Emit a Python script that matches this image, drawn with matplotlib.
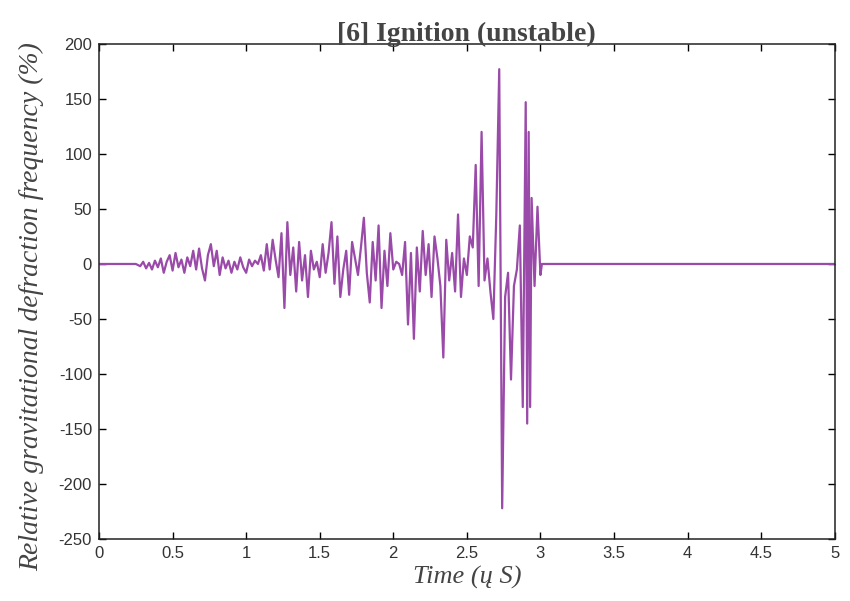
import numpy as np
import matplotlib
matplotlib.use("Agg")
import matplotlib.pyplot as plt

plt.rcParams["axes.unicode_minus"] = False

# tiempo (u S) y frecuencia relativa (%)
t = [0.00, 0.25, 0.28, 0.30, 0.32, 0.34, 0.36, 0.38, 0.40, 0.42, 0.44, 0.46, 0.48,
     0.50, 0.52, 0.54, 0.56, 0.58, 0.60, 0.62, 0.64, 0.66, 0.68, 0.70, 0.72, 0.74,
     0.76, 0.78, 0.80, 0.82, 0.84, 0.86, 0.88, 0.90, 0.92, 0.94, 0.96, 0.98, 1.00,
     1.02, 1.04, 1.06, 1.08, 1.10, 1.12, 1.14, 1.16, 1.18, 1.20, 1.22, 1.24, 1.26,
     1.28, 1.30, 1.32, 1.34, 1.36, 1.38, 1.40, 1.42, 1.44, 1.46, 1.48, 1.50, 1.52,
     1.54, 1.56, 1.58, 1.60, 1.62, 1.64, 1.66, 1.68, 1.70, 1.72, 1.74, 1.76, 1.78,
     1.80, 1.82, 1.84, 1.86, 1.88, 1.90, 1.92, 1.94, 1.96, 1.98, 2.00, 2.02, 2.04,
     2.06, 2.08, 2.10, 2.12, 2.14, 2.16, 2.18, 2.20, 2.22, 2.24, 2.26, 2.28, 2.30,
     2.32, 2.34, 2.36, 2.38, 2.40, 2.42, 2.44, 2.46, 2.48, 2.50, 2.52, 2.54, 2.56,
     2.58, 2.60, 2.62, 2.64, 2.66, 2.68, 2.70, 2.72, 2.74, 2.76, 2.78, 2.80, 2.82,
     2.84, 2.86, 2.88, 2.90, 2.91, 2.92, 2.93, 2.94, 2.96, 2.98, 3.00, 3.01, 5.00]
freq = [0, 0, -2, 2, -4, 1, -5, 3, -3, 5, -8, 2, 8,
        -6, 10, -3, 4, -8, 6, -2, 12, -5, 14, -4, -15, 8,
        18, -2, 12, -10, 6, -4, 3, -8, 2, -5, 6, -3, -8,
        4, -2, 3, 0, 8, -6, 18, -5, 22, 4, -12, 28, -40,
        38, -10, 15, -25, 20, -15, 8, -30, 12, -5, 2, -12, 18,
        -8, 10, 38, -18, 25, -30, -5, 12, -28, 20, 5, -10, 15,
        42, -8, -35, 20, -15, 35, -40, 12, -20, 28, -5, 2, 0,
        -10, 20, -55, 10, -68, 15, -25, 30, -10, 18, -30, 25, 5,
        -20, -85, 22, -15, 10, -25, 45, -30, 5, -10, 25, 15, 90,
        -20, 120, -15, 5, -25, -50, 44, 177, -222, -30, -8, -105, -20,
        -5, 35, -130, 147, -145, 120, -130, 60, -20, 52, -10, 0, 0]

fig, ax = plt.subplots(figsize=(8.5, 6.01), dpi=100)
fig.subplots_adjust(left=0.1165, right=0.982, bottom=0.103, top=0.927)

ax.plot(t, freq, color="#9a4aa8", linewidth=1.6)

ax.set_xlim(0, 5)
ax.set_ylim(-250, 200)
ax.set_xticks(np.arange(0, 5.01, 0.5))
ax.set_xticklabels(["0", "0.5", "1", "1.5", "2", "2.5", "3", "3.5", "4", "4.5", "5"])
ax.set_yticks(np.arange(-250, 201, 50))

ax.tick_params(direction="in", top=True, right=True, length=5, width=1,
               labelsize=12, labelcolor="#333333", pad=5)
for lab in ax.get_xticklabels() + ax.get_yticklabels():
    lab.set_fontfamily("Liberation Sans")
for s in ax.spines.values():
    s.set_linewidth(1.1)
    s.set_color("#222222")

ax.set_title("[6] Ignition (unstable)", fontfamily="Liberation Serif",
             fontweight="bold", fontsize=20, color="#444444", pad=2)
ax.set_xlabel("Time (ų S)", fontfamily="Liberation Serif", style="italic",
              fontsize=19, color="#444444")
ax.xaxis.set_label_coords(0.5, -0.055)
ax.set_ylabel("Relative gravitational defraction frequency (%)",
              fontfamily="Liberation Serif", style="italic",
              fontsize=20, color="#444444")
ax.yaxis.set_label_coords(-0.075, 0.47)

fig.savefig("out.png", dpi=100)
